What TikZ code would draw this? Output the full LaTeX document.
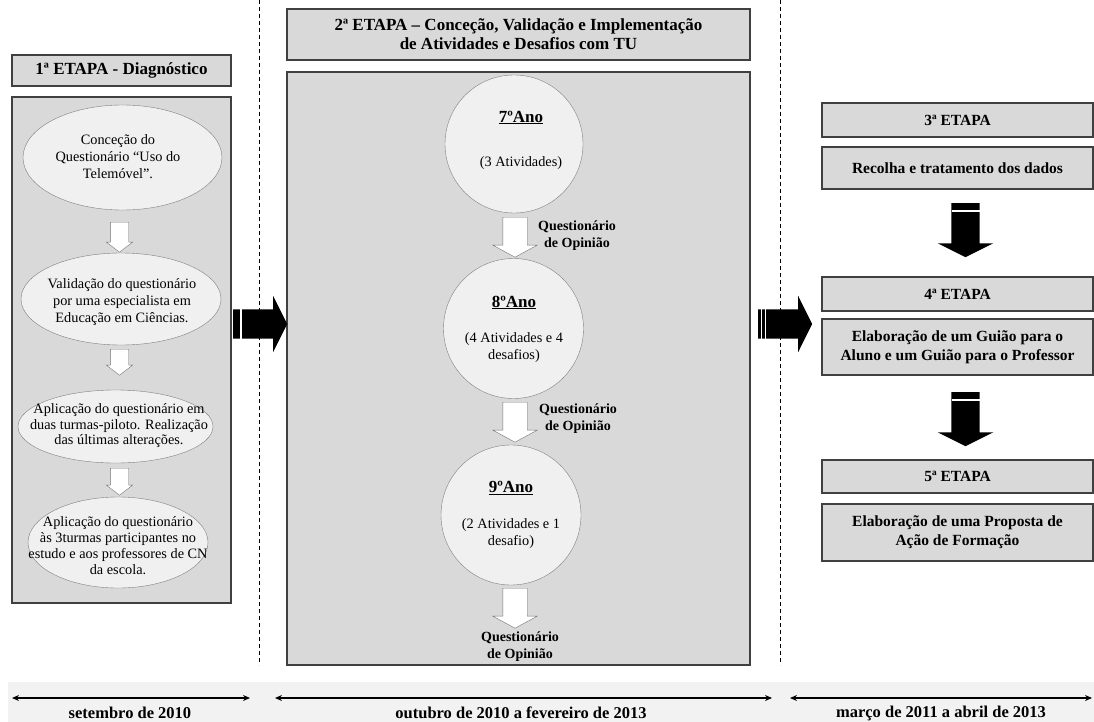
\documentclass[tikz,border=0pt]{standalone}
\usepackage{fontspec}
\setmainfont{Liberation Serif}
\usetikzlibrary{arrows.meta,calc,shapes.geometric,shapes.arrows}

\definecolor{panelgray}{HTML}{D9D9D9}
\definecolor{ovalgray}{HTML}{F0F0F0}
\definecolor{stripgray}{HTML}{F2F2F2}
\newcommand{\anofont}{\fontsize{17}{17}\selectfont\bfseries}

\begin{document}
\begin{tikzpicture}[x=1pt,y=-1pt,>=Stealth,
  etapa/.style={draw=black!75,line width=1.1pt,fill=panelgray,inner sep=0pt,align=center,
    minimum width=#1,font=\fontsize{15.5}{19}\selectfont\bfseries},
  bigtitle/.style={font=\fontsize{17}{19}\selectfont\bfseries},
  panel/.style={draw=black!75,line width=1.1pt,fill=panelgray,inner sep=0pt},
  oval/.style={ellipse,draw=black!50,fill=ovalgray,inner sep=0pt},
  ball/.style={circle,draw=black!50,fill=ovalgray,inner sep=0pt},
  txt/.style={align=center,inner sep=0pt,font=\fontsize{14.3}{17}\selectfont},
  lbl/.style={align=center,inner sep=0pt,font=\fontsize{14}{17}\selectfont\bfseries},
  hollow/.style={single arrow,shape border rotate=270,draw=black!55,fill=white,anchor=tail},
  blockarrow/.style={single arrow,fill=black,inner sep=14.5pt,anchor=tail,minimum height=54,
    single arrow head extend=13.5,single arrow tip angle=127},
  stripe/.style={draw=white,line width=1.2pt},
  divider/.style={line width=0.8pt,dash pattern=on 4pt off 3pt},
  span/.style={<->,line width=1.2pt,>={Stealth[length=7pt,width=6pt]}}]
  \useasboundingbox (0,0) rectangle (1094,722);

  % dividers between the stages
  \draw[divider] (259,0) -- (259,665);
  \draw[divider] (780,0) -- (780,665);

  % 1st stage
  \node[etapa=219,minimum height=31,bigtitle] (t1) at (121.5,70.5) {1ª ETAPA - Diagnóstico};
  \node[panel,minimum width=219,minimum height=506] (p1) at (121.5,350) {};
  \node[oval,minimum width=199,minimum height=105] (e1) at (122.5,157.5) {};
  \node[txt] (e1t) at (118,157) {Conceção do\\Questionário “Uso do\\Telemóvel”.};
  \node[oval,minimum width=200,minimum height=92] (e2) at (121,299) {};
  \node[txt] (e2t) at (122,302) {Validação do questionário\\por uma especialista em\\Educação em Ciências.};
  \node[oval,minimum width=195,minimum height=73] (e3) at (115.5,426.5) {};
  \node[txt,font=\fontsize{14.3}{15.5}\selectfont] (e3t) at (119,426) {Aplicação do questionário em\\duas turmas-piloto. Realização\\das últimas alterações.};
  \node[oval,minimum width=180,minimum height=91] (e4) at (118,542.5) {};
  \node[txt,font=\fontsize{14.3}{16}\selectfont] (e4t) at (118,546) {Aplicação do questionário\\às 3turmas participantes no\\estudo e aos professores de CN\\da escola.};
  \foreach \y/\len [count=\i] in {222/30,349/26,468/27}
    \node[hollow,inner sep=9pt,minimum height=\len,single arrow head extend=4,single arrow tip angle=105] (l\i) at (119.5,\y) {};

  % 2nd stage
  \node[etapa=463,minimum height=51,bigtitle] (t2) at (518.5,34.5) {2ª ETAPA – Conceção, Validação e Implementação\\de Atividades e Desafios com TU};
  \node[panel,minimum width=463,minimum height=593] (p2) at (518.5,368.5) {};
  \node[ball,minimum size=138] (c7) at (514,144) {};
  \node[txt] (c7t) at (521,140) {\underline{\anofont 7ºAno}\\[27pt](3 Atividades)};
  \node[ball,minimum size=140] (c8) at (513.5,328.5) {};
  \node[txt] (c8t) at (514,329) {\underline{\anofont 8ºAno}\\[18pt](4 Atividades e 4\\desafios)};
  \node[ball,minimum size=140] (c9) at (511,515) {};
  \node[txt] (c9t) at (511,515) {\underline{\anofont 9ºAno}\\[19pt](2 Atividades e 1\\desafio)};
  \foreach \y [count=\i] in {217,402,588}
    \node[hollow,inner sep=12pt,minimum height=40,single arrow head extend=10,single arrow tip angle=123] (m\i) at (515,\y) {};
  \node[lbl] (q1) at (577,236) {Questionário\\de Opinião};
  \node[lbl] (q2) at (578,418.5) {Questionário\\de Opinião};
  \node[lbl] (q3) at (520,646.5) {Questionário\\de Opinião};

  % passing on to the next stage
  \node[blockarrow] (h1) at (233,324) {};
  \draw[stripe] ($(h1.tail)+(8,-15)$) -- ++(0,30);
  \node[blockarrow] (h2) at (758,324) {};
  \draw[stripe] ($(h2.tail)+(3.5,-15)$) -- ++(0,30);
  \draw[stripe] ($(h2.tail)+(7.5,-15)$) -- ++(0,30);

  % 3rd to 5th stage
  \node[etapa=271,minimum height=34] (r3h) at (957.5,120) {3ª ETAPA};
  \node[etapa=271,minimum height=42] (r3) at (957.5,168) {Recolha e tratamento dos dados};
  \node[etapa=271,minimum height=34] (r4h) at (957.5,294) {4ª ETAPA};
  \node[etapa=271,minimum height=56] (r4) at (957.5,347) {Elaboração de um Guião para o\\Aluno e um Guião para o Professor};
  \node[etapa=271,minimum height=33] (r5h) at (957.5,476.5) {5ª ETAPA};
  \node[etapa=271,minimum height=57] (r5) at (957.5,532.5) {Elaboração de uma Proposta de\\Ação de Formação};
  \node[blockarrow,shape border rotate=270,inner sep=14pt] (d1) at (965.5,203) {};
  \draw[stripe] ($(d1.tail)+(-14,8)$) -- ++(28,0);
  \node[blockarrow,shape border rotate=270,inner sep=14pt] (d2) at (965.5,392) {};
  \draw[stripe] ($(d2.tail)+(-14,8)$) -- ++(28,0);

  % time line
  \fill[stripgray] (8,682) rectangle (1094,722);
  \coordinate (s1a) at (12,698);  \coordinate (s1b) at (250,698);
  \coordinate (s2a) at (275,698); \coordinate (s2b) at (772,698);
  \coordinate (s3a) at (790,698); \coordinate (s3b) at (1092,698);
  \draw[span] (s1a) -- (s1b);
  \draw[span] (s2a) -- (s2b);
  \draw[span] (s3a) -- (s3b);
  \node[lbl,font=\fontsize{16.5}{17}\selectfont\bfseries] (d2010) at (130,713) {setembro de 2010};
  \node[lbl,font=\fontsize{16.5}{17}\selectfont\bfseries] (d2013) at (521,713) {outubro de 2010 a fevereiro de 2013};
  \node[lbl,font=\fontsize{16.5}{17}\selectfont\bfseries] (d2011) at (941,713) {março de 2011 a abril de 2013};
\end{tikzpicture}
\end{document}
